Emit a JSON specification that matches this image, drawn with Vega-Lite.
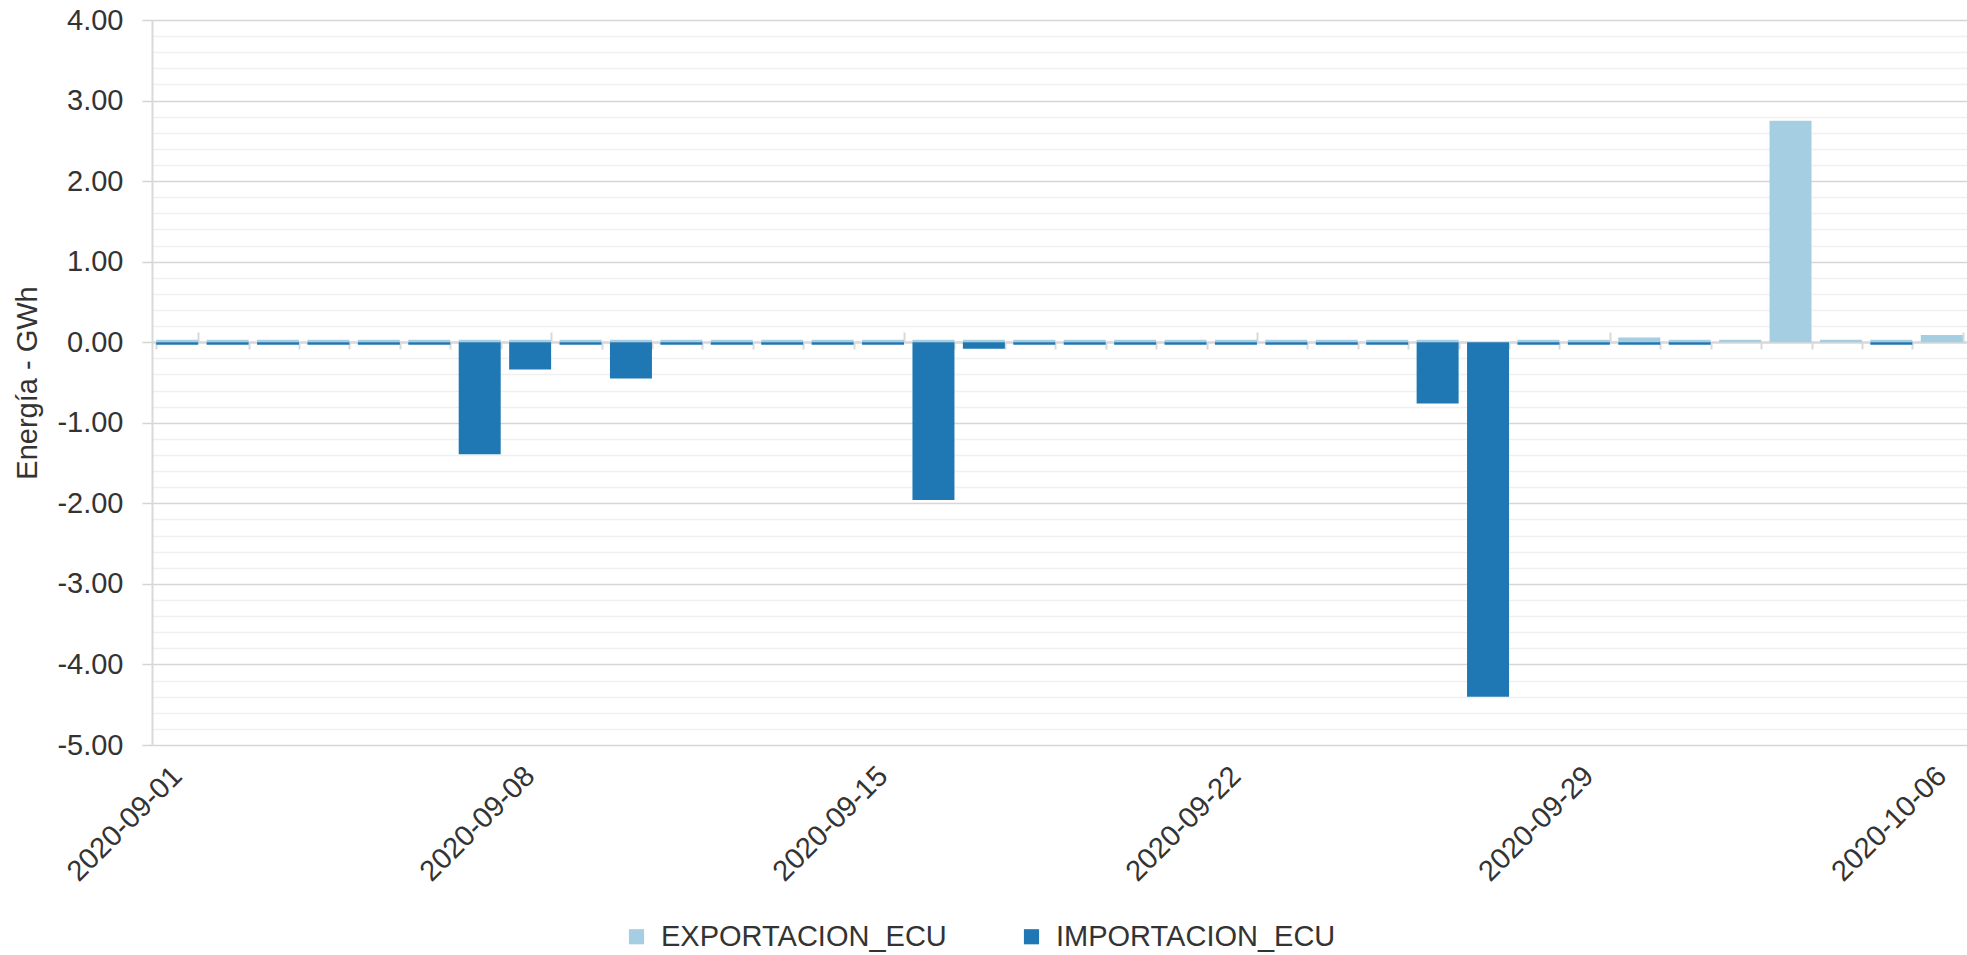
{
  "$schema": "https://vega.github.io/schema/vega-lite/v6.json",
  "width": 1815,
  "height": 725,
  "autosize": "none",
  "padding": {"left": 152, "top": 20, "right": 0, "bottom": 210},
  "background": "white",
  "config": {
    "font": "Liberation Sans",
    "view": {"stroke": null},
    "axis": {"labelColor": "#333333", "titleColor": "#333333", "labelFont": "Liberation Sans", "titleFont": "Liberation Sans"},
    "legend": {"labelFont": "Liberation Sans"}
  },
  "data": {
    "values": [
      {"date": "2020-09-01", "serie": "EXPORTACION_ECU", "value": 0.03}, {"date": "2020-09-01", "serie": "IMPORTACION_ECU", "value": -0.03},
      {"date": "2020-09-02", "serie": "EXPORTACION_ECU", "value": 0.03}, {"date": "2020-09-02", "serie": "IMPORTACION_ECU", "value": -0.03},
      {"date": "2020-09-03", "serie": "EXPORTACION_ECU", "value": 0.03}, {"date": "2020-09-03", "serie": "IMPORTACION_ECU", "value": -0.03},
      {"date": "2020-09-04", "serie": "EXPORTACION_ECU", "value": 0.03}, {"date": "2020-09-04", "serie": "IMPORTACION_ECU", "value": -0.03},
      {"date": "2020-09-05", "serie": "EXPORTACION_ECU", "value": 0.03}, {"date": "2020-09-05", "serie": "IMPORTACION_ECU", "value": -0.03},
      {"date": "2020-09-06", "serie": "EXPORTACION_ECU", "value": 0.03}, {"date": "2020-09-06", "serie": "IMPORTACION_ECU", "value": -0.03},
      {"date": "2020-09-07", "serie": "EXPORTACION_ECU", "value": 0.03}, {"date": "2020-09-07", "serie": "IMPORTACION_ECU", "value": -1.39},
      {"date": "2020-09-08", "serie": "EXPORTACION_ECU", "value": 0.03}, {"date": "2020-09-08", "serie": "IMPORTACION_ECU", "value": -0.34},
      {"date": "2020-09-09", "serie": "EXPORTACION_ECU", "value": 0.03}, {"date": "2020-09-09", "serie": "IMPORTACION_ECU", "value": -0.03},
      {"date": "2020-09-10", "serie": "EXPORTACION_ECU", "value": 0.03}, {"date": "2020-09-10", "serie": "IMPORTACION_ECU", "value": -0.45},
      {"date": "2020-09-11", "serie": "EXPORTACION_ECU", "value": 0.03}, {"date": "2020-09-11", "serie": "IMPORTACION_ECU", "value": -0.03},
      {"date": "2020-09-12", "serie": "EXPORTACION_ECU", "value": 0.03}, {"date": "2020-09-12", "serie": "IMPORTACION_ECU", "value": -0.03},
      {"date": "2020-09-13", "serie": "EXPORTACION_ECU", "value": 0.03}, {"date": "2020-09-13", "serie": "IMPORTACION_ECU", "value": -0.03},
      {"date": "2020-09-14", "serie": "EXPORTACION_ECU", "value": 0.03}, {"date": "2020-09-14", "serie": "IMPORTACION_ECU", "value": -0.03},
      {"date": "2020-09-15", "serie": "EXPORTACION_ECU", "value": 0.03}, {"date": "2020-09-15", "serie": "IMPORTACION_ECU", "value": -0.03},
      {"date": "2020-09-16", "serie": "EXPORTACION_ECU", "value": 0.03}, {"date": "2020-09-16", "serie": "IMPORTACION_ECU", "value": -1.96},
      {"date": "2020-09-17", "serie": "EXPORTACION_ECU", "value": 0.03}, {"date": "2020-09-17", "serie": "IMPORTACION_ECU", "value": -0.08},
      {"date": "2020-09-18", "serie": "EXPORTACION_ECU", "value": 0.03}, {"date": "2020-09-18", "serie": "IMPORTACION_ECU", "value": -0.03},
      {"date": "2020-09-19", "serie": "EXPORTACION_ECU", "value": 0.03}, {"date": "2020-09-19", "serie": "IMPORTACION_ECU", "value": -0.03},
      {"date": "2020-09-20", "serie": "EXPORTACION_ECU", "value": 0.03}, {"date": "2020-09-20", "serie": "IMPORTACION_ECU", "value": -0.03},
      {"date": "2020-09-21", "serie": "EXPORTACION_ECU", "value": 0.03}, {"date": "2020-09-21", "serie": "IMPORTACION_ECU", "value": -0.03},
      {"date": "2020-09-22", "serie": "EXPORTACION_ECU", "value": 0.03}, {"date": "2020-09-22", "serie": "IMPORTACION_ECU", "value": -0.03},
      {"date": "2020-09-23", "serie": "EXPORTACION_ECU", "value": 0.03}, {"date": "2020-09-23", "serie": "IMPORTACION_ECU", "value": -0.03},
      {"date": "2020-09-24", "serie": "EXPORTACION_ECU", "value": 0.03}, {"date": "2020-09-24", "serie": "IMPORTACION_ECU", "value": -0.03},
      {"date": "2020-09-25", "serie": "EXPORTACION_ECU", "value": 0.03}, {"date": "2020-09-25", "serie": "IMPORTACION_ECU", "value": -0.03},
      {"date": "2020-09-26", "serie": "EXPORTACION_ECU", "value": 0.03}, {"date": "2020-09-26", "serie": "IMPORTACION_ECU", "value": -0.76},
      {"date": "2020-09-27", "serie": "IMPORTACION_ECU", "value": -4.40},
      {"date": "2020-09-28", "serie": "EXPORTACION_ECU", "value": 0.03}, {"date": "2020-09-28", "serie": "IMPORTACION_ECU", "value": -0.03},
      {"date": "2020-09-29", "serie": "EXPORTACION_ECU", "value": 0.03}, {"date": "2020-09-29", "serie": "IMPORTACION_ECU", "value": -0.03},
      {"date": "2020-09-30", "serie": "EXPORTACION_ECU", "value": 0.06}, {"date": "2020-09-30", "serie": "IMPORTACION_ECU", "value": -0.03},
      {"date": "2020-10-01", "serie": "EXPORTACION_ECU", "value": 0.03}, {"date": "2020-10-01", "serie": "IMPORTACION_ECU", "value": -0.03},
      {"date": "2020-10-02", "serie": "EXPORTACION_ECU", "value": 0.03},
      {"date": "2020-10-03", "serie": "EXPORTACION_ECU", "value": 2.75},
      {"date": "2020-10-04", "serie": "EXPORTACION_ECU", "value": 0.03},
      {"date": "2020-10-05", "serie": "EXPORTACION_ECU", "value": 0.03}, {"date": "2020-10-05", "serie": "IMPORTACION_ECU", "value": -0.03},
      {"date": "2020-10-06", "serie": "EXPORTACION_ECU", "value": 0.09}
    ]
  },
  "layer": [
    {
      "mark": {"type": "bar", "opacity": 0},
      "encoding": {
        "y": {
          "field": "value", "type": "quantitative", "stack": null,
          "scale": {"domain": [-5, 4], "nice": false, "zero": false},
          "axis": {
            "title": null, "labels": false, "ticks": false, "domain": false,
            "values": [-4.8, -4.6, -4.4, -4.2, -3.8, -3.6, -3.4, -3.2, -2.8, -2.6, -2.4, -2.2, -1.8, -1.6, -1.4, -1.2, -0.8, -0.6, -0.4, -0.2, 0.2, 0.4, 0.6, 0.8, 1.2, 1.4, 1.6, 1.8, 2.2, 2.4, 2.6, 2.8, 3.2, 3.4, 3.6, 3.8],
            "grid": true, "gridColor": "#f0f0f0", "gridWidth": 1.5
          }
        }
      }
    },
    {
      "mark": {"type": "bar", "opacity": 0},
      "encoding": {
        "x": {
          "field": "date", "type": "ordinal", "sort": "ascending",
          "scale": {"paddingInner": 0.167, "paddingOuter": 0.0835},
          "axis": {
            "orient": "bottom",
            "title": null,
            "values": ["2020-09-01", "2020-09-08", "2020-09-15", "2020-09-22", "2020-09-29", "2020-10-06"],
            "labelAngle": -45, "labelAlign": "right", "labelBaseline": "middle",
            "labelFontSize": 29, "labelPadding": 26, "ticks": false, "domain": false, "grid": false,
            "labelOverlap": false, "labelBound": false
          }
        },
        "y": {
          "field": "value", "type": "quantitative", "stack": null,
          "axis": {
            "orient": "left",
            "title": "Energía - GWh",
            "titleFontSize": 29, "titleFontWeight": "normal", "titlePadding": 14,
            "values": [-5, -4, -3, -2, -1, 0, 1, 2, 3, 4],
            "labelExpr": "(datum.value < 0 ? '-' : '') + format(abs(datum.value), '.2f')",
            "labelFontSize": 29, "labelPadding": 19,
            "tickSize": 10, "tickColor": "#d4d4d4", "tickWidth": 1.5,
            "domainColor": "#d9d9d9", "domainWidth": 2,
            "grid": true, "gridColor": "#d6d6d6", "gridWidth": 1.5,
            "labelOverlap": false
          }
        }
      }
    },
    {
      "mark": {"type": "bar"},
      "encoding": {
        "x": {
          "field": "date", "type": "ordinal", "sort": "ascending",
          "axis": {
            "orient": "top", "offset": -322, "title": null, "labels": false,
            "tickBand": "extent", "grid": false,
            "domain": true, "domainColor": "#d9d9d9", "domainWidth": 2.5,
            "ticks": true, "tickColor": "#d9d9d9", "tickWidth": 2,
            "tickSize": {"condition": {"test": "indexof(['2020-09-01','2020-09-08','2020-09-15','2020-09-22','2020-09-29','2020-10-06'], datum.value) >= 0", "value": 10}, "value": -7}
          }
        },
        "y": {"field": "value", "type": "quantitative", "stack": null, "axis": null},
        "color": {
          "field": "serie", "type": "nominal",
          "scale": {"domain": ["EXPORTACION_ECU", "IMPORTACION_ECU"], "range": ["#a6cee3", "#1f78b4"]},
          "legend": {
            "title": null, "orient": "none", "direction": "horizontal",
            "legendX": 470, "legendY": 902,
            "symbolType": "square", "symbolSize": 230, "symbolStrokeWidth": 0,
            "labelFontSize": 29, "labelColor": "#333333", "labelOffset": 10, "labelLimit": 0,
            "columnPadding": 70
          }
        }
      }
    }
  ],
  "resolve": {"axis": {"x": "independent", "y": "independent"}}
}
